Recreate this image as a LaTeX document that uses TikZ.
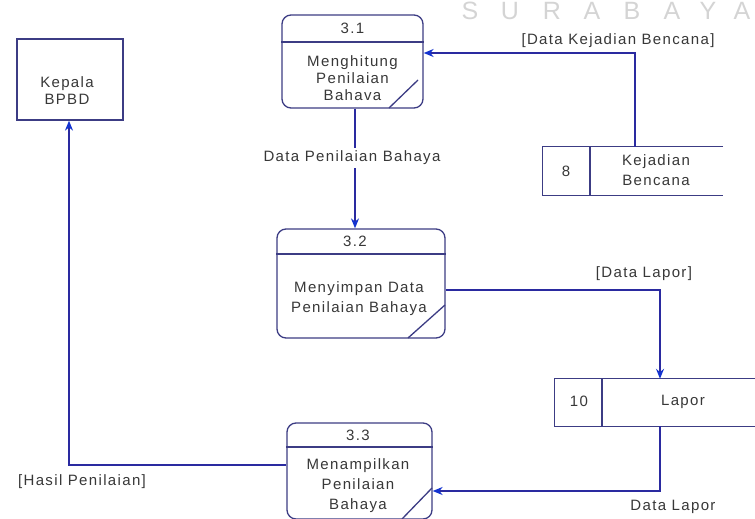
\documentclass[tikz,border=0pt]{standalone}
\usepackage{fontspec}
\setmainfont[LetterSpace=9]{Liberation Sans}
\newfontfamily\wmfont{Liberation Sans}
\usetikzlibrary{arrows.meta}
\definecolor{boxcol}{HTML}{3C3C84}
\definecolor{flowcol}{HTML}{2A2AA0}
\definecolor{tipcol}{HTML}{1433D0}
\definecolor{txtcol}{HTML}{383838}
\definecolor{wmcol}{HTML}{D4D4D4}
\tikzset{
  proc/.style={draw=boxcol, line width=1.3pt, rounded corners=9pt, inner sep=0pt},
  ent/.style={draw=boxcol, line width=1.3pt, inner sep=0pt},
  storebox/.style={inner sep=0pt},
  boxline/.style={draw=boxcol, line width=1.3pt},
  flow/.style={draw=flowcol, line width=1.2pt, -{Stealth[length=10pt,width=8pt,fill=tipcol,color=tipcol]}},
  lbl/.style={text=txtcol, font=\fontsize{15}{17}\selectfont, inner sep=1pt},
  txt/.style={text=txtcol, font=\fontsize{15}{17}\selectfont, inner sep=0pt, align=center},
  wm/.style={text=wmcol, font=\wmfont\fontsize{25}{25}\selectfont, anchor=base, inner sep=0pt}
}
\begin{document}
\begin{tikzpicture}[x=1pt,y=-1pt]
\useasboundingbox (0,0) rectangle (755,519);
\clip (0,0) rectangle (755,519);
\fill[white] (0,0) rectangle (755,519);
% watermark
\foreach \ch/\xx in {S/470,U/510,R/552,A/592,B/632,A/672,Y/708,A/742}{
  \node[wm] (wm\xx) at (\xx,20) {\ch};
}
% processes
\node[proc, minimum width=141pt, minimum height=93pt] (p31) at (352.5,61.5) {};
\draw[boxline] (p31.west |- 0,42) -- (p31.east |- 0,42);
\draw[boxline] (418,80) -- (389,108);
\node[txt] (p31n) at (352.5,28.5) {3.1};
\node[txt] (p31t) at (352.5,78.5) {Menghitung\\[0pt]Penilaian\\[0pt]Bahava};

\node[proc, minimum width=168pt, minimum height=109pt] (p32) at (361,283.5) {};
\draw[boxline] (p32.west |- 0,254) -- (p32.east |- 0,254);
\draw[boxline] (445,305) -- (408,338);
\node[txt] (p32n) at (355,241.5) {3.2};
\node[txt] (p32t) at (359,298.5) {Menyimpan Data\\[3pt]Penilaian Bahaya};

\node[proc, minimum width=145pt, minimum height=96pt] (p33) at (359.5,471) {};
\draw[boxline] (p33.west |- 0,447) -- (p33.east |- 0,447);
\draw[boxline] (432,488) -- (402,519);
\node[txt] (p33n) at (358,435) {3.3};
\node[txt] (p33t) at (358,486) {Menampilkan\\[3pt]Penilaian\\[3pt]Bahaya};

% external entity
\node[ent, minimum width=106pt, minimum height=81pt] (kep) at (70,79.5) {};
\node[txt] (kept) at (67,91) {Kepala\\[0pt]BPBD};

% data stores
\node[storebox, minimum width=180pt, minimum height=48pt] (s8) at (633,171) {};
\draw[boxline] (s8.north east) -- (s8.north west) -- (s8.south west) -- (s8.south east);
\draw[boxline] (s8.north -| 590,0) -- (s8.south -| 590,0);
\node[txt] (s8n) at (566,171) {8};
\node[txt] (s8t) at (656,170.5) {Kejadian\\[3pt]Bencana};

\node[storebox, minimum width=200pt, minimum height=47pt] (s10) at (655,402.5) {};
\draw[boxline] (s10.north east) -- (s10.north west) -- (s10.south west) -- (s10.south east);
\draw[boxline] (s10.north -| 602,0) -- (s10.south -| 602,0);
\node[txt] (s10n) at (579,401) {10};
\node[txt] (s10t) at (683,402) {Lapor};

% flows
\draw[flow] (s8.north -| 635,0) -- (635,53) -- (p31.east |- 0,53);
\node[lbl] (l1) at (618,41) {[Data Kejadian Bencana]};

\draw[flow] (p31.south -| 355,0) -- (p32.north -| 355,0);
\node[lbl, fill=white, inner sep=3pt] (l2) at (352,158) {Data Penilaian Bahaya};

\draw[flow] (p32.east |- 0,290) -- (660,290) -- (s10.north -| 660,0);
\node[lbl] (l3) at (644,274) {[Data Lapor]};

\draw[flow] (s10.south -| 660,0) -- (660,491) -- (p33.east |- 0,491);
\node[lbl] (l4) at (673,507) {Data Lapor};

\draw[flow] (p33.west |- 0,465) -- (69,465) -- (kep.south -| 69,0);
\node[lbl] (l5) at (82,482) {[Hasil Penilaian]};
\end{tikzpicture}
\end{document}
